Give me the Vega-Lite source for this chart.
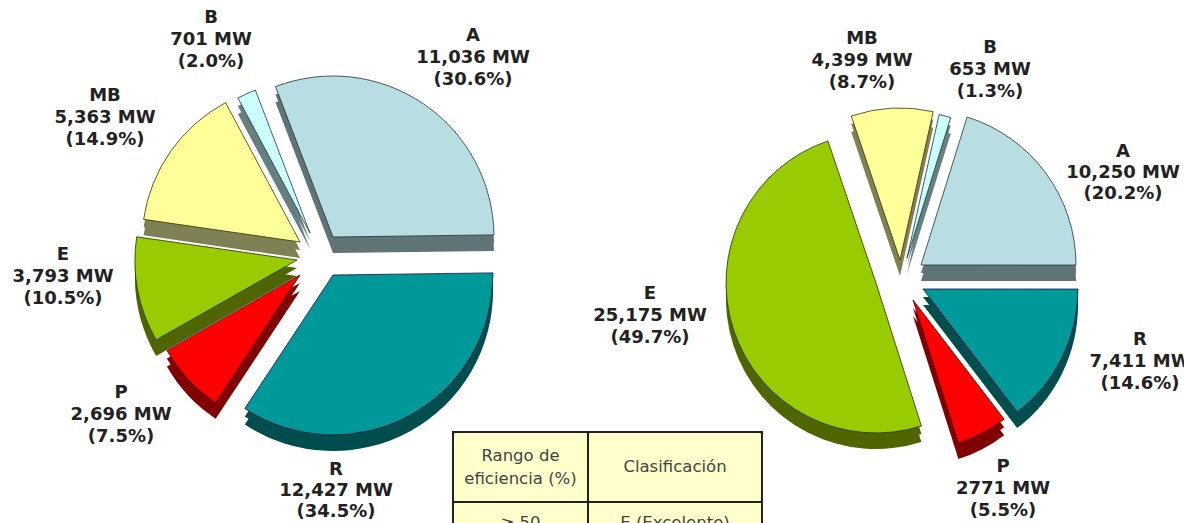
{"$schema":"https://vega.github.io/schema/vega-lite/v6.json","width":1184,"height":523,"padding":0,"autosize":{"type":"fit","contains":"padding"},"background":"white","config":{"view":{"stroke":null}},
"datasets":{"pies":[
{"pie":"izq","orden":1,"clase":"A","mw":11036,"pct":30.6,"etiqueta":"A\n11,036 MW\n(30.6%)"},
{"pie":"izq","orden":2,"clase":"R","mw":12427,"pct":34.5,"etiqueta":"R\n12,427 MW\n(34.5%)"},
{"pie":"izq","orden":3,"clase":"P","mw":2696,"pct":7.5,"etiqueta":"P\n2,696 MW\n(7.5%)"},
{"pie":"izq","orden":4,"clase":"E","mw":3793,"pct":10.5,"etiqueta":"E\n3,793 MW\n(10.5%)"},
{"pie":"izq","orden":5,"clase":"MB","mw":5363,"pct":14.9,"etiqueta":"MB\n5,363 MW\n(14.9%)"},
{"pie":"izq","orden":6,"clase":"B","mw":701,"pct":2.0,"etiqueta":"B\n701 MW\n(2.0%)"},
{"pie":"der","orden":1,"clase":"A","mw":10250,"pct":20.2,"etiqueta":"A\n10,250 MW\n(20.2%)"},
{"pie":"der","orden":2,"clase":"R","mw":7411,"pct":14.6,"etiqueta":"R\n7,411 MW\n(14.6%)"},
{"pie":"der","orden":3,"clase":"P","mw":2771,"pct":5.5,"etiqueta":"P\n2771 MW\n(5.5%)"},
{"pie":"der","orden":4,"clase":"E","mw":25175,"pct":49.7,"etiqueta":"E\n25,175 MW\n(49.7%)"},
{"pie":"der","orden":5,"clase":"MB","mw":4399,"pct":8.7,"etiqueta":"MB\n4,399 MW\n(8.7%)"},
{"pie":"der","orden":6,"clase":"B","mw":653,"pct":1.3,"etiqueta":"B\n653 MW\n(1.3%)"}],
"tabla":[
{"col":"Rango","fila":"h","texto":"Rango de\neficiencia (%)"},
{"col":"Clas","fila":"h","texto":"Clasificación"},
{"col":"Rango","fila":"1","texto":"≥ 50"},
{"col":"Clas","fila":"1","texto":"E (Excelente)"}]},
"resolve":{"scale":{"x":"independent","y":"independent","theta":"independent"}},
"layer":[
{"data":{"name":"pies"},
 "transform":[{"filter":"datum.pie=='izq'"},{"stack":"pct","groupby":["pie"],"sort":[{"field":"orden","order":"ascending"}],"as":["t0","t1"]}],
 "encoding":{"x":{"field":"pie","type":"nominal","axis":null,"scale":{"type":"point","domain":["izq"],"range":[316,316],"padding":0}},"y":{"field":"pie","type":"nominal","axis":null,"scale":{"type":"point","domain":["izq"],"range":[256,256],"padding":0}}},
 "layer":[
 {"encoding":{"theta":{"field":"t0","type":"quantitative","scale":{"domain":[0,100],"range":[-0.365,5.918]}},"theta2":{"field":"t1"}},
  "layer":[
  {"transform":[{"filter":"datum.clase=='R'"}],"layer":[
   {"mark":{"type":"arc","outerRadius":160,"fill":"#004d4d","xOffset":17,"yOffset":35}},
   {"mark":{"type":"arc","outerRadius":160,"fill":"#004d4d","xOffset":17,"yOffset":27}},
   {"mark":{"type":"arc","outerRadius":160,"fill":"#009999","stroke":"#114","strokeWidth":0.8,"xOffset":17,"yOffset":19}}]},
  {"transform":[{"filter":"datum.clase=='P'"}],"layer":[
   {"mark":{"type":"arc","outerRadius":153,"fill":"#800000","xOffset":-16,"yOffset":35}},
   {"mark":{"type":"arc","outerRadius":153,"fill":"#800000","xOffset":-16,"yOffset":27}},
   {"mark":{"type":"arc","outerRadius":153,"fill":"#ff0000","stroke":"#300","strokeWidth":0.8,"xOffset":-16,"yOffset":19}}]},
  {"transform":[{"filter":"datum.clase=='E'"}],"layer":[
   {"mark":{"type":"arc","outerRadius":162,"fill":"#4f6600","xOffset":-19,"yOffset":20}},
   {"mark":{"type":"arc","outerRadius":162,"fill":"#4f6600","xOffset":-19,"yOffset":12}},
   {"mark":{"type":"arc","outerRadius":162,"fill":"#99cc00","stroke":"#230","strokeWidth":0.8,"xOffset":-19,"yOffset":4}}]},
  {"transform":[{"filter":"datum.clase=='MB'"}],"layer":[
   {"mark":{"type":"arc","outerRadius":158,"fill":"#808055","xOffset":-16,"yOffset":2}},
   {"mark":{"type":"arc","outerRadius":158,"fill":"#808055","xOffset":-16,"yOffset":-6}},
   {"mark":{"type":"arc","outerRadius":158,"fill":"#ffff99","stroke":"#330","strokeWidth":0.8,"xOffset":-16,"yOffset":-14}}]},
  {"transform":[{"filter":"datum.clase=='B'"}],"layer":[
   {"mark":{"type":"arc","outerRadius":153,"fill":"#667f7f","xOffset":-6,"yOffset":-7}},
   {"mark":{"type":"arc","outerRadius":153,"fill":"#667f7f","xOffset":-6,"yOffset":-15}},
   {"mark":{"type":"arc","outerRadius":153,"fill":"#ccffff","stroke":"#233","strokeWidth":0.8,"xOffset":-6,"yOffset":-23}}]},
  {"transform":[{"filter":"datum.clase=='A'"}],"layer":[
   {"mark":{"type":"arc","outerRadius":161,"fill":"#607477","xOffset":17,"yOffset":-3}},
   {"mark":{"type":"arc","outerRadius":161,"fill":"#607477","xOffset":17,"yOffset":-11}},
   {"mark":{"type":"arc","outerRadius":161,"fill":"#b8dde2","stroke":"#233","strokeWidth":0.8,"xOffset":17,"yOffset":-19}}]}
 ]},
 {"transform":[{"filter":"datum.clase=='A'"}],"mark":{"type":"text","font":"DejaVu Sans","fontWeight":"bold","fontSize":18,"lineBreak":"\n","lineHeight":22,"baseline":"middle","color":"#222","xOffset":157,"yOffset":-220},"encoding":{"text":{"field":"etiqueta"}}},
 {"transform":[{"filter":"datum.clase=='B'"}],"mark":{"type":"text","font":"DejaVu Sans","fontWeight":"bold","fontSize":18,"lineBreak":"\n","lineHeight":22,"baseline":"middle","color":"#222","xOffset":-105,"yOffset":-238},"encoding":{"text":{"field":"etiqueta"}}},
 {"transform":[{"filter":"datum.clase=='MB'"}],"mark":{"type":"text","font":"DejaVu Sans","fontWeight":"bold","fontSize":18,"lineBreak":"\n","lineHeight":22,"baseline":"middle","color":"#222","xOffset":-211,"yOffset":-160},"encoding":{"text":{"field":"etiqueta"}}},
 {"transform":[{"filter":"datum.clase=='E'"}],"mark":{"type":"text","font":"DejaVu Sans","fontWeight":"bold","fontSize":18,"lineBreak":"\n","lineHeight":22,"baseline":"middle","color":"#222","xOffset":-253,"yOffset":-1},"encoding":{"text":{"field":"etiqueta"}}},
 {"transform":[{"filter":"datum.clase=='P'"}],"mark":{"type":"text","font":"DejaVu Sans","fontWeight":"bold","fontSize":18,"lineBreak":"\n","lineHeight":22,"baseline":"middle","color":"#222","xOffset":-195,"yOffset":137},"encoding":{"text":{"field":"etiqueta"}}},
 {"transform":[{"filter":"datum.clase=='R'"}],"mark":{"type":"text","font":"DejaVu Sans","fontWeight":"bold","fontSize":18,"lineBreak":"\n","lineHeight":21,"baseline":"middle","color":"#222","xOffset":20,"yOffset":214},"encoding":{"text":{"field":"etiqueta"}}}
 ]},
{"data":{"name":"pies"},
 "transform":[{"filter":"datum.pie=='der'"},{"stack":"pct","groupby":["pie"],"sort":[{"field":"orden","order":"ascending"}],"as":["t0","t1"]}],
 "encoding":{"x":{"field":"pie","type":"nominal","axis":null,"scale":{"type":"point","domain":["der"],"range":[900,900],"padding":0}},"y":{"field":"pie","type":"nominal","axis":null,"scale":{"type":"point","domain":["der"],"range":[277,277],"padding":0}}},
 "layer":[
 {"encoding":{"theta":{"field":"t0","type":"quantitative","scale":{"domain":[0,100],"range":[0.302,6.585]}},"theta2":{"field":"t1"}},
  "layer":[
  {"transform":[{"filter":"datum.clase=='R'"}],"layer":[
   {"mark":{"type":"arc","outerRadius":155,"fill":"#004d4d","xOffset":23,"yOffset":28}},
   {"mark":{"type":"arc","outerRadius":155,"fill":"#004d4d","xOffset":23,"yOffset":20}},
   {"mark":{"type":"arc","outerRadius":155,"fill":"#009999","stroke":"#114","strokeWidth":0.8,"xOffset":23,"yOffset":12}}]},
  {"transform":[{"filter":"datum.clase=='P'"}],"layer":[
   {"mark":{"type":"arc","outerRadius":150,"fill":"#800000","xOffset":13,"yOffset":39}},
   {"mark":{"type":"arc","outerRadius":150,"fill":"#800000","xOffset":13,"yOffset":31}},
   {"mark":{"type":"arc","outerRadius":150,"fill":"#ff0000","stroke":"#300","strokeWidth":0.8,"xOffset":13,"yOffset":23}}]},
  {"transform":[{"filter":"datum.clase=='E'"}],"layer":[
   {"mark":{"type":"arc","outerRadius":150,"fill":"#4f6600","xOffset":-24,"yOffset":22}},
   {"mark":{"type":"arc","outerRadius":150,"fill":"#4f6600","xOffset":-24,"yOffset":14}},
   {"mark":{"type":"arc","outerRadius":150,"fill":"#99cc00","stroke":"#230","strokeWidth":0.8,"xOffset":-24,"yOffset":6}}]},
  {"transform":[{"filter":"datum.clase=='MB'"}],"layer":[
   {"mark":{"type":"arc","outerRadius":152,"fill":"#808055","xOffset":0,"yOffset":-1}},
   {"mark":{"type":"arc","outerRadius":152,"fill":"#808055","xOffset":0,"yOffset":-9}},
   {"mark":{"type":"arc","outerRadius":152,"fill":"#ffff99","stroke":"#330","strokeWidth":0.8,"xOffset":0,"yOffset":-17}}]},
  {"transform":[{"filter":"datum.clase=='B'"}],"layer":[
   {"mark":{"type":"arc","outerRadius":147,"fill":"#667f7f","xOffset":7,"yOffset":-3}},
   {"mark":{"type":"arc","outerRadius":147,"fill":"#667f7f","xOffset":7,"yOffset":-11}},
   {"mark":{"type":"arc","outerRadius":147,"fill":"#ccffff","stroke":"#233","strokeWidth":0.8,"xOffset":7,"yOffset":-19}}]},
  {"transform":[{"filter":"datum.clase=='A'"}],"layer":[
   {"mark":{"type":"arc","outerRadius":155,"fill":"#607477","xOffset":21,"yOffset":4}},
   {"mark":{"type":"arc","outerRadius":155,"fill":"#607477","xOffset":21,"yOffset":-4}},
   {"mark":{"type":"arc","outerRadius":155,"fill":"#b8dde2","stroke":"#233","strokeWidth":0.8,"xOffset":21,"yOffset":-12}}]}
 ]},
 {"transform":[{"filter":"datum.clase=='A'"}],"mark":{"type":"text","font":"DejaVu Sans","fontWeight":"bold","fontSize":18,"lineBreak":"\n","lineHeight":21,"baseline":"middle","color":"#222","xOffset":223,"yOffset":-125},"encoding":{"text":{"field":"etiqueta"}}},
 {"transform":[{"filter":"datum.clase=='B'"}],"mark":{"type":"text","font":"DejaVu Sans","fontWeight":"bold","fontSize":18,"lineBreak":"\n","lineHeight":22,"baseline":"middle","color":"#222","xOffset":90,"yOffset":-229},"encoding":{"text":{"field":"etiqueta"}}},
 {"transform":[{"filter":"datum.clase=='MB'"}],"mark":{"type":"text","font":"DejaVu Sans","fontWeight":"bold","fontSize":18,"lineBreak":"\n","lineHeight":22,"baseline":"middle","color":"#222","xOffset":-38,"yOffset":-238},"encoding":{"text":{"field":"etiqueta"}}},
 {"transform":[{"filter":"datum.clase=='E'"}],"mark":{"type":"text","font":"DejaVu Sans","fontWeight":"bold","fontSize":18,"lineBreak":"\n","lineHeight":22,"baseline":"middle","color":"#222","xOffset":-250,"yOffset":17},"encoding":{"text":{"field":"etiqueta"}}},
 {"transform":[{"filter":"datum.clase=='P'"}],"mark":{"type":"text","font":"DejaVu Sans","fontWeight":"bold","fontSize":18,"lineBreak":"\n","lineHeight":22,"baseline":"middle","color":"#222","xOffset":103,"yOffset":190},"encoding":{"text":{"field":"etiqueta"}}},
 {"transform":[{"filter":"datum.clase=='R'"}],"mark":{"type":"text","font":"DejaVu Sans","fontWeight":"bold","fontSize":18,"lineBreak":"\n","lineHeight":22,"baseline":"middle","color":"#222","xOffset":240,"yOffset":63},"encoding":{"text":{"field":"etiqueta"}}}
 ]},
{"data":{"name":"tabla"},
 "encoding":{"y":{"field":"fila","type":"nominal","axis":null,"scale":{"type":"band","domain":["h","1"],"range":[432,572],"paddingInner":0,"paddingOuter":0}}},
 "resolve":{"scale":{"x":"independent"}},
 "layer":[
 {"transform":[{"filter":"datum.col=='Rango'"}],
  "encoding":{"x":{"field":"col","type":"nominal","axis":null,"scale":{"type":"band","domain":["Rango"],"range":[453,588],"paddingInner":0,"paddingOuter":0}}},
  "layer":[
  {"mark":{"type":"rect","fill":"#ffffcc","stroke":"#222","strokeWidth":2}},
  {"transform":[{"filter":"datum.fila=='h'"}],"mark":{"type":"text","font":"DejaVu Sans","fontSize":16.5,"lineBreak":"\n","lineHeight":23,"baseline":"middle","color":"#444","dy":-11},"encoding":{"text":{"field":"texto"}}},
  {"transform":[{"filter":"datum.fila=='1'"}],"mark":{"type":"text","font":"DejaVu Sans","fontSize":16.5,"baseline":"middle","color":"#444","dy":-14},"encoding":{"text":{"field":"texto"}}}
  ]},
 {"transform":[{"filter":"datum.col=='Clas'"}],
  "encoding":{"x":{"field":"col","type":"nominal","axis":null,"scale":{"type":"band","domain":["Clas"],"range":[588,762],"paddingInner":0,"paddingOuter":0}}},
  "layer":[
  {"mark":{"type":"rect","fill":"#ffffcc","stroke":"#222","strokeWidth":2}},
  {"transform":[{"filter":"datum.fila=='h'"}],"mark":{"type":"text","font":"DejaVu Sans","fontSize":16.5,"baseline":"middle","color":"#444"},"encoding":{"text":{"field":"texto"}}},
  {"transform":[{"filter":"datum.fila=='1'"}],"mark":{"type":"text","font":"DejaVu Sans","fontSize":16.5,"baseline":"middle","color":"#444","dy":-14},"encoding":{"text":{"field":"texto"}}}
  ]}
 ]}
]}
